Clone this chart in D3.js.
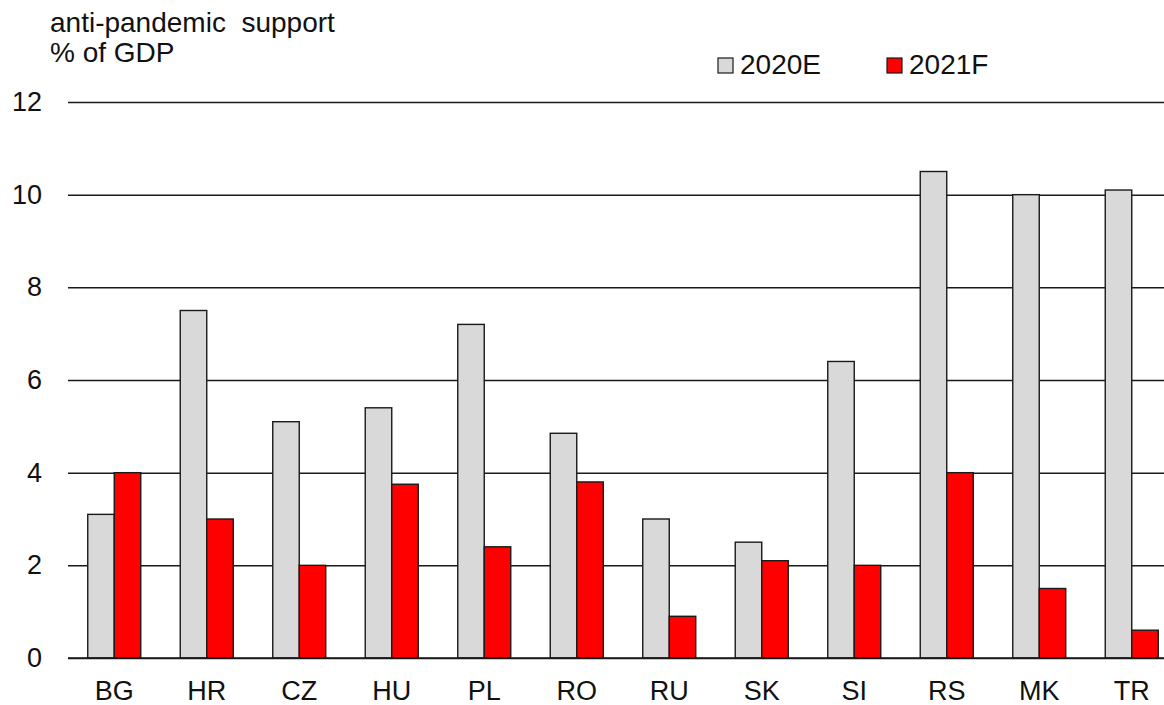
<!DOCTYPE html>
<html>
<head>
<meta charset="utf-8">
<script src="https://cdn.jsdelivr.net/npm/d3@7"></script>
<style>
  html, body { margin: 0; padding: 0; background: #fff; overflow: hidden; }
  svg { display: block; font-family: Arial, "Liberation Sans", sans-serif; }
</style>
</head>
<body>
<svg id="chart" width="1164" height="705"></svg>
<script>
// Anti-pandemic fiscal support by country, % of GDP
const countries = ["BG", "HR", "CZ", "HU", "PL", "RO", "RU", "SK", "SI", "RS", "MK", "TR"];
const seriesNames = ["2020E", "2021F"];
const support2020E = [3.1, 7.5, 5.1, 5.4, 7.2, 4.85, 3.0, 2.5, 6.4, 10.5, 10.0, 10.1];
const support2021F = [4.0, 3.0, 2.0, 3.75, 2.4, 3.8, 0.9, 2.1, 2.0, 4.0, 1.5, 0.6];
const yTicks = [0, 2, 4, 6, 8, 10, 12];
const titleLines = ["anti-pandemic  support", "% of GDP"];

const colors = { "2020E": "#d9d9d9", "2021F": "#ff0000" };

const rows = countries.map((c, i) => ({
  country: c,
  values: [
    { key: "2020E", value: support2020E[i] },
    { key: "2021F", value: support2021F[i] }
  ]
}));

const svg = d3.select("#chart");
const plot = { left: 68, right: 1178, top: 102, bottom: 658 };

const x0 = d3.scaleBand()
  .domain(countries)
  .range([plot.left, plot.right])
  .paddingInner(0.427)
  .paddingOuter(0.2135);

const x1 = d3.scaleBand()
  .domain(seriesNames)
  .range([0, x0.bandwidth()]);

const y = d3.scaleLinear()
  .domain([0, 12])
  .range([plot.bottom, plot.top]);

// horizontal gridlines with value labels
const yAxis = d3.axisLeft(y)
  .tickValues(yTicks)
  .tickSize(-(plot.right - plot.left))
  .tickPadding(26)
  .tickFormat(d3.format("d"));

const gy = svg.append("g")
  .attr("transform", `translate(${plot.left},0)`)
  .call(yAxis);
gy.select(".domain").remove();
gy.selectAll(".tick line").attr("stroke", "#1a1a1a").attr("stroke-width", 1.5);
gy.selectAll(".tick text")
  .attr("font-size", 27)
  .attr("fill", "#111");

// bars
const groups = svg.append("g").selectAll("g")
  .data(rows)
  .join("g")
  .attr("transform", d => `translate(${x0(d.country)},0)`);

groups.selectAll("rect")
  .data(d => d.values)
  .join("rect")
  .attr("x", d => x1(d.key))
  .attr("y", d => y(d.value))
  .attr("width", x1.bandwidth())
  .attr("height", d => y(0) - y(d.value))
  .attr("fill", d => colors[d.key])
  .attr("stroke", "#1a1a1a")
  .attr("stroke-width", 1.4);

// baseline redrawn over the bars
svg.append("line")
  .attr("x1", plot.left).attr("x2", plot.right)
  .attr("y1", y(0)).attr("y2", y(0))
  .attr("stroke", "#1a1a1a").attr("stroke-width", 1.5);

// category labels
const xAxis = d3.axisBottom(x0).tickSize(0).tickPadding(23);
const gx = svg.append("g")
  .attr("transform", `translate(0,${plot.bottom})`)
  .call(xAxis);
gx.select(".domain").remove();
gx.selectAll(".tick text").attr("font-size", 27).attr("fill", "#111");

// title
svg.append("g").selectAll("text")
  .data(titleLines)
  .join("text")
  .attr("x", 50)
  .attr("y", (d, i) => 32 + i * 30)
  .attr("font-size", 28)
  .attr("fill", "#111")
  .style("white-space", "pre")
  .text(d => d);

// legend
const legend = svg.append("g");
const legendX = [718, 887];
seriesNames.forEach((s, i) => {
  legend.append("rect")
    .attr("x", legendX[i]).attr("y", 58)
    .attr("width", 15).attr("height", 15)
    .attr("fill", colors[s])
    .attr("stroke", "#1a1a1a").attr("stroke-width", 1.2);
  legend.append("text")
    .attr("x", legendX[i] + 22).attr("y", 74)
    .attr("font-size", 28)
    .attr("fill", "#111")
    .text(s);
});
</script>
</body>
</html>
